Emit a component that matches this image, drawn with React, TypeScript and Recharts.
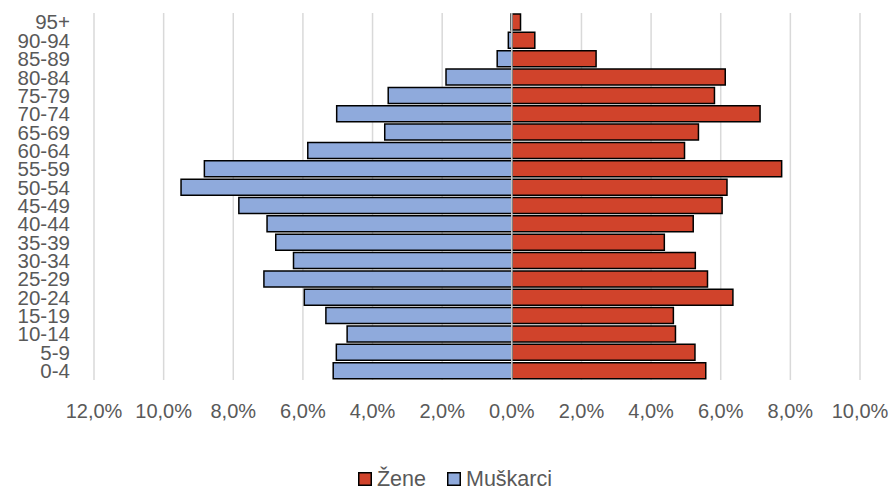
import { Bar, BarChart, CartesianGrid, Legend, ReferenceLine, XAxis, YAxis } from 'recharts'

const AGE_GROUPS = ['0-4', '5-9', '10-14', '15-19', '20-24', '25-29', '30-34', '35-39', '40-44', '45-49', '50-54', '55-59', '60-64', '65-69', '70-74', '75-79', '80-84', '85-89', '90-94', '95+']
// share of population, %
const ZENE = [5.57, 5.26, 4.7, 4.64, 6.35, 5.62, 5.27, 4.38, 5.21, 6.04, 6.18, 7.75, 4.96, 5.36, 7.13, 5.82, 6.13, 2.42, 0.66, 0.25]
const MUSKARCI = [5.13, 5.04, 4.73, 5.34, 5.96, 7.12, 6.27, 6.78, 7.03, 7.84, 9.5, 8.83, 5.86, 3.65, 5.03, 3.55, 1.89, 0.42, 0.1, 0.02]
const X_TICKS = [-12, -10, -8, -6, -4, -2, 0, 2, 4, 6, 8, 10]

const RED = '#D0432B'
const BLUE = '#8FAADC'
const TEXT = '#595959'
const FONT = '"Liberation Sans", Arial, sans-serif'

const data = AGE_GROUPS.map((age, i) => ({ age, zene: ZENE[i], muskarci: -MUSKARCI[i] }))

const pct = (v: number) => `${Math.abs(v).toFixed(1).replace('.', ',')}%`

function LegendContent() {
  const items = [
    { label: 'Žene', color: RED },
    { label: 'Muškarci', color: BLUE },
  ]
  return (
    <div style={{ display: 'flex', justifyContent: 'center', gap: 21, fontFamily: FONT, fontSize: 21.5, color: TEXT, paddingLeft: 17, lineHeight: '20px', height: 20 }}>
      {items.map((it) => (
        <div key={it.label} style={{ display: 'flex', alignItems: 'center', gap: 5 }}>
          <svg width={14} height={14}>
            <rect x={0.75} y={0.75} width={12.5} height={12.5} fill={it.color} stroke="#000" strokeWidth={1.5} />
          </svg>
          <span>{it.label}</span>
        </div>
      ))}
    </div>
  )
}

export default function App() {
  return (
    <div style={{ position: 'absolute', left: 0, top: 0, width: 893, height: 490, background: '#fff' }}>
      <BarChart
        width={893}
        height={490}
        data={data}
        layout="vertical"
        stackOffset="sign"
        barCategoryGap={1}
        margin={{ top: 13, right: 33, bottom: 0, left: 0 }}
      >
        <CartesianGrid horizontal={false} stroke="#d9d9d9" strokeWidth={1.5} />
        <XAxis
          type="number"
          domain={[-12, 10]}
          ticks={X_TICKS}
          tickFormatter={pct}
          height={89}
          axisLine={false}
          tickLine={false}
          tickSize={0}
          tickMargin={24}
          interval={0}
          tick={{ fill: TEXT, fontSize: 20, fontFamily: FONT }}
        />
        <YAxis
          type="category"
          dataKey="age"
          reversed
          width={94}
          axisLine={false}
          tickLine={false}
          tickSize={0}
          tickMargin={24}
          interval={0}
          tick={{ fill: TEXT, fontSize: 20.5, fontFamily: FONT }}
        />
        <Legend
          layout="vertical"
          align="center"
          verticalAlign="bottom"
          content={<LegendContent />}
          wrapperStyle={{ top: 469, left: 0, width: 893, height: 21 }}
        />
        <Bar dataKey="zene" name="Žene" stackId="a" fill={RED} stroke="#000" strokeWidth={1.5} isAnimationActive={false} />
        <Bar dataKey="muskarci" name="Muškarci" stackId="a" fill={BLUE} stroke="#000" strokeWidth={1.5} isAnimationActive={false} />
        <ReferenceLine x={0} stroke="#d0d0d0" strokeWidth={1.5} />
      </BarChart>
    </div>
  )
}
